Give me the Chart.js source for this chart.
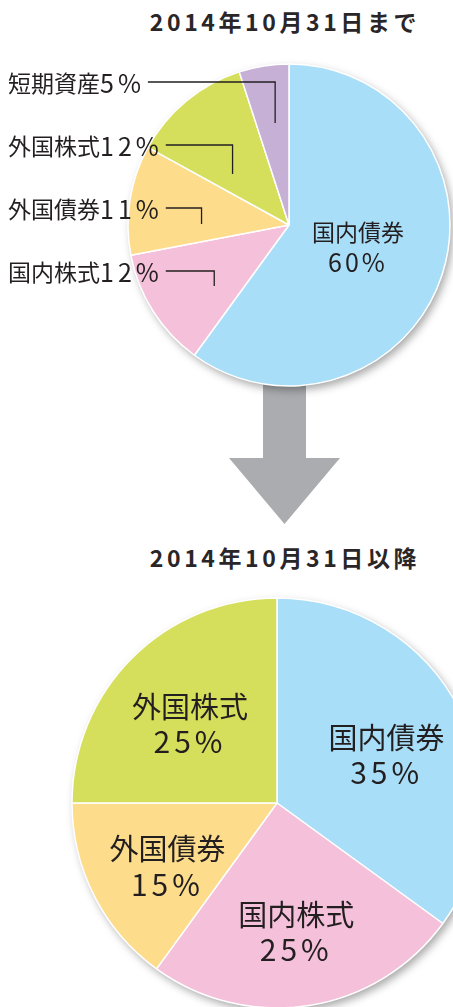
<!DOCTYPE html>
<html lang="ja">
<head>
<meta charset="utf-8">
<title>資産配分の変更</title>
<script src="https://cdn.jsdelivr.net/npm/chart.js@4/dist/chart.umd.min.js"></script>
<style>
    html, body {
        margin: 0;
        padding: 0;
        width: 453px;
        height: 1007px;
        overflow: hidden;
        background: #ffffff;
    }
    .title {
        position: absolute;
        left: 285px;
        transform: translateX(-50%);
        font-family: "Noto Sans CJK JP", sans-serif;
        font-weight: bold;
        font-size: 23px;
        line-height: 24px;
        letter-spacing: 3.6px;
        color: #2a2627;
        white-space: nowrap;
    }
    #arrow {
        position: absolute;
        left: 0;
        top: 0;
    }
    canvas {
        position: absolute;
        left: 0;
    }
</style>
</head>
<body>
<div class="title" id="titleBefore" style="top:9px;"></div>
<div class="title" id="titleAfter" style="top:545px;"></div>

<svg id="arrow" width="453" height="560">
    <polygon points="263,380 306,380 306,458 340,458 284.5,524 229,458 263,458" fill="#abacaf"></polygon>
</svg>

<canvas id="chartBefore" width="453" height="400" style="top:0;"></canvas>
<canvas id="chartAfter" width="500" height="430" style="top:590px;"></canvas>

<script>
// ============================================================================
// Data
// ============================================================================

const TITLE_BEFORE = '2014年10月31日まで';
const TITLE_AFTER = '2014年10月31日以降';

// 変更前（2014年10月31日まで）
const BEFORE_CATEGORIES = ['国内債券', '国内株式', '外国債券', '外国株式', '短期資産'];
const BEFORE_VALUES = [60, 12, 11, 12, 5];

// 変更後（2014年10月31日以降）
const AFTER_CATEGORIES = ['国内債券', '国内株式', '外国債券', '外国株式'];
const AFTER_VALUES = [35, 25, 15, 25];

// ============================================================================
// Styles
// ============================================================================

const SLICE_COLORS = {
    '国内債券': '#a9def8',
    '国内株式': '#f5c1da',
    '外国債券': '#fddc8b',
    '外国株式': '#d5df5b',
    '短期資産': '#c6b0d6',
};

const TEXT_COLOR = '#231f20';
const FONT_FAMILY = '"Noto Sans CJK JP", sans-serif';

// 引き出し線の縦の長さ（上の行から順に）
const LEADER_DROPS = [41, 29, 16, 15];

// ============================================================================
// Plugins
// ============================================================================

// 円の下に柔らかい影を描く
const pieShadowPlugin = {
    id: 'pieShadow',
    beforeDatasetsDraw(chart) {
        const arc = chart.getDatasetMeta(0).data[0];
        if (!arc) return;
        const {x, y, outerRadius} = arc.getProps(['x', 'y', 'outerRadius'], true);
        const ctx = chart.ctx;
        ctx.save();
        ctx.shadowColor = 'rgba(0, 0, 0, 0.35)';
        ctx.shadowBlur = 9;
        ctx.shadowOffsetX = 3;
        ctx.shadowOffsetY = 4;
        ctx.fillStyle = '#ffffff';
        ctx.beginPath();
        ctx.arc(x, y, outerRadius, 0, Math.PI * 2);
        ctx.fill();
        ctx.restore();
    }
};

// 名前 + 数値（数値部分だけ字間を広げる）を1行で描く
const drawLabelLine = (ctx, name, value, x, y, opts) => {
    ctx.letterSpacing = '0px';
    ctx.font = `${opts.nameSize}px ${FONT_FAMILY}`;
    const nameWidth = name ? ctx.measureText(name).width : 0;
    ctx.font = `${opts.valueSize}px ${FONT_FAMILY}`;
    ctx.letterSpacing = opts.valueSpacing;
    const valueWidth = value ? ctx.measureText(value).width : 0;

    let left = x;
    if (opts.align === 'center') {
        left = x - (nameWidth + valueWidth) / 2;
    }
    ctx.textAlign = 'left';
    if (name) {
        ctx.letterSpacing = '0px';
        ctx.font = `${opts.nameSize}px ${FONT_FAMILY}`;
        ctx.fillText(name, left, y);
    }
    if (value) {
        ctx.letterSpacing = opts.valueSpacing;
        ctx.font = `${opts.valueSize}px ${FONT_FAMILY}`;
        ctx.fillText(value, left + nameWidth, y);
    }
    ctx.letterSpacing = '0px';
    return left + nameWidth + valueWidth;
};

// スライス内ラベルと引き出し線ラベル
const sliceLabelPlugin = {
    id: 'sliceLabels',
    afterDatasetsDraw(chart, args, opts) {
        const meta = chart.getDatasetMeta(0);
        const labels = chart.data.labels;
        const values = chart.data.datasets[0].data;
        const ctx = chart.ctx;
        const outer = [];

        ctx.save();
        ctx.fillStyle = TEXT_COLOR;
        ctx.textBaseline = 'middle';

        meta.data.forEach((arc, i) => {
            const p = arc.getProps(['x', 'y', 'startAngle', 'endAngle', 'outerRadius'], true);
            const mid = (p.startAngle + p.endAngle) / 2;

            if (values[i] >= opts.insideMin) {
                const r = p.outerRadius * opts.insideRadius;
                const cx = p.x + Math.cos(mid) * r;
                const cy = p.y + Math.sin(mid) * r + (opts.insideDy || 0);
                const style = {
                    nameSize: opts.insideNameSize,
                    valueSize: opts.insideValueSize,
                    valueSpacing: opts.insideValueSpacing,
                    align: 'center',
                };
                drawLabelLine(ctx, labels[i], '', cx, cy - opts.insideGap / 2, style);
                drawLabelLine(ctx, '', values[i] + '%', cx, cy + opts.insideGap / 2, style);
            } else {
                const r = p.outerRadius * opts.leaderRadius;
                outer.push({
                    name: labels[i],
                    value: values[i] + '%',
                    ax: p.x + Math.cos(mid) * r,
                });
            }
        });

        // 引き出しラベルは上から（反時計回りの順に）並べる
        outer.reverse().forEach((item, k) => {
            const rowY = opts.outerTop + k * opts.outerStep;
            const style = {
                nameSize: opts.outerNameSize,
                valueSize: opts.outerValueSize,
                valueSpacing: opts.outerValueSpacing,
                align: 'left',
            };
            const textEnd = drawLabelLine(ctx, item.name, item.value, opts.outerX, rowY, style);
            const lineStart = textEnd + 3;
            const drop = LEADER_DROPS[k] || 15;

            ctx.strokeStyle = TEXT_COLOR;
            ctx.lineWidth = 1.3;
            ctx.beginPath();
            ctx.moveTo(lineStart, rowY - 1);
            ctx.lineTo(item.ax, rowY - 1);
            ctx.lineTo(item.ax, rowY - 1 + drop);
            ctx.stroke();
        });

        ctx.restore();
    }
};

// ============================================================================
// Chart builders
// ============================================================================

const buildPie = (canvasId, categories, values, radius, padding, labelOptions) => {
    const canvas = document.getElementById(canvasId);
    if (!canvas) {
        console.warn('canvas not found:', canvasId);
        return null;
    }

    return new Chart(canvas.getContext('2d'), {
        type: 'pie',
        data: {
            labels: categories,
            datasets: [{
                data: values,
                backgroundColor: categories.map((c) => SLICE_COLORS[c]),
                borderColor: '#ffffff',
                borderWidth: 1.5,
                clip: false,
            }]
        },
        options: {
            responsive: false,
            animation: false,
            radius: radius,
            layout: {padding: padding},
            plugins: {
                legend: {display: false},
                tooltip: {enabled: false},
                title: {display: false},
                sliceLabels: labelOptions,
            }
        },
        plugins: [pieShadowPlugin, sliceLabelPlugin]
    });
};

const init = () => {
    document.getElementById('titleBefore').textContent = TITLE_BEFORE;
    document.getElementById('titleAfter').textContent = TITLE_AFTER;

    // 上段：中心 (289, 225)、半径 161
    buildPie('chartBefore', BEFORE_CATEGORIES, BEFORE_VALUES, 161,
        {left: 125, right: 0, top: 50, bottom: 0},
        {
            insideMin: 20,
            insideRadius: 0.45,
            insideNameSize: 23,
            insideValueSize: 25,
            insideValueSpacing: '3px',
            insideGap: 31,
            leaderRadius: 0.55,
            outerX: 8,
            outerTop: 83,
            outerStep: 63,
            outerNameSize: 23,
            outerValueSize: 25,
            outerValueSpacing: '4px',
        });

    // 下段：中心 (277, 803)、半径 205
    buildPie('chartAfter', AFTER_CATEGORIES, AFTER_VALUES, 205,
        {left: 54, right: 0, top: 0, bottom: 4},
        {
            insideMin: 0,
            insideRadius: 0.6,
            insideDy: 8,
            insideNameSize: 29,
            insideValueSize: 30,
            insideValueSpacing: '4px',
            insideGap: 35,
        });
};

if (document.readyState === 'loading') {
    document.addEventListener('DOMContentLoaded', init);
} else {
    init();
}
</script>
</body>
</html>
